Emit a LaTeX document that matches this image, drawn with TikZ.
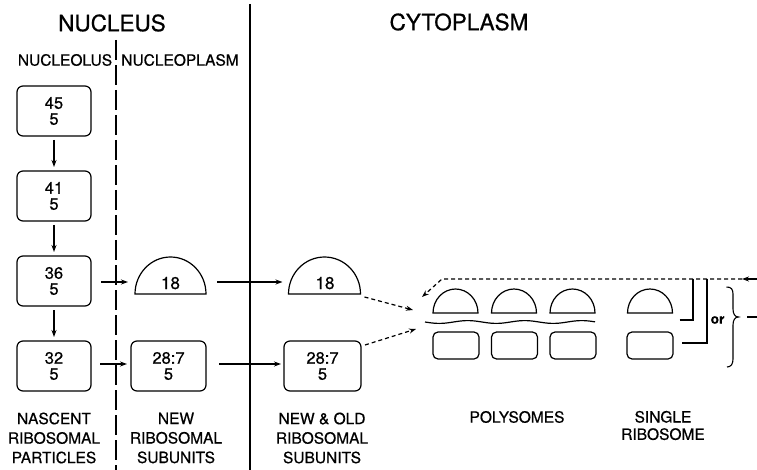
\documentclass[tikz,border=0pt]{standalone}
\usepackage{fontspec}
\setmainfont{TeX Gyre Heros}[FakeBold=0.6]
\usetikzlibrary{arrows.meta}
\begin{document}
\begin{tikzpicture}[x=1pt,y=-1pt,
  every node/.style={inner sep=0pt, outer sep=0pt},
  line width=1.2pt,
  title/.style={font=\fontsize{22.5}{27}\selectfont},
  lab/.style={font=\fontsize{15.5}{19.5}\selectfont, align=center},
  labs/.style={font=\fontsize{15.5}{17.3}\selectfont, align=center},
  numbox/.style={draw, rounded corners=6pt, minimum width=74pt, minimum height=50pt,
    align=center, font=\fontsize{16.5}{16}\selectfont},
  halfbig/.style={minimum width=71pt, inner ysep=0pt, text height=31.5pt, text depth=5pt,
    font=\fontsize{17}{16}\selectfont},
  halfsmall/.style={minimum width=45pt, minimum height=24pt},
  rbox/.style={draw, rounded corners=5pt, minimum width=46pt, minimum height=27pt},
  arr/.style={-{Stealth[length=7pt,width=5pt]}},
  darr/.style={dash pattern=on 4pt off 3pt, -{Stealth[length=7pt,width=5pt]}},
]
\useasboundingbox (0,0) rectangle (757,470);

% titles
\node[title] (nucleus) at (112,23) {NUCLEUS};
\node[title] (cyto) at (459,22) {CYTOPLASM};
\node[lab] (nucleolus) at (65,60) {NUCLEOLUS};
\node[lab] (nucleoplasm) at (180,60) {NUCLEOPLASM};

% dividers
\draw (250,4) -- (250,470);
\draw[dash pattern=on 20pt off 5pt] (116,40) -- (116,470);

% nucleolus boxes
\node[numbox] (b45) at (54,111) {45\\5};
\node[numbox] (b41) at (54,196) {41\\5};
\node[numbox] (b36) at (54,281) {36\\5};
\node[numbox] (b32) at (54,366) {32\\5};
\draw[arr, shorten <=4pt, shorten >=4pt] (b45) -- (b41);
\draw[arr, shorten <=4pt, shorten >=4pt] (b41) -- (b36);
\draw[arr, shorten <=4pt, shorten >=4pt] (b36) -- (b32);

% small subunits
\node[halfbig, anchor=south] (s18a) at (170.5,294) {18};
\draw (s18a.south east) arc[start angle=0, end angle=180, x radius=35.5pt, y radius=37pt] -- cycle;
\node[halfbig, anchor=south] (s18b) at (325,294) {18};
\draw (s18b.south east) arc[start angle=0, end angle=180, x radius=36pt, y radius=37pt] -- cycle;

% large subunits
\node[numbox, minimum width=75pt] (r28a) at (168.5,366) {28:7\\5};
\node[numbox, minimum width=77pt] (r28b) at (322.5,366) {28:7\\5};

% nucleus -> cytoplasm arrows
\coordinate (ya) at (0,282);
\coordinate (yb) at (0,364);
\draw[arr, shorten <=10pt, shorten >=7pt] (b36.east |- ya) -- (s18a.west |- ya);
\draw[arr, shorten <=11pt, shorten >=7pt] (s18a.east |- ya) -- (s18b.west |- ya);
\draw[arr, shorten <=9pt, shorten >=4pt] (b32.east |- yb) -- (r28a.west |- yb);
\draw[arr, shorten <=13pt, shorten >=3pt] (r28a.east |- yb) -- (r28b.west |- yb);

% polysomes
\foreach \n/\x in {p1/455.5, p2/514, p3/572.5, ps/650}{
  \node[halfsmall, anchor=south] (h\n) at (\x,313) {};
  \draw (h\n.south east) arc[start angle=0, end angle=180, x radius=22.5pt, y radius=24pt] -- cycle;
}
\node[rbox] (r1) at (456,345.5) {};
\node[rbox] (r2) at (514.5,345.5) {};
\node[rbox] (r3) at (573,345.5) {};
\node[rbox] (rs) at (650,345.5) {};
\draw plot[domain=0:170, samples=120, smooth] ({425+\x}, {322+1.4*sin(\x*6.3158)});

% dashed arrows into polysomes
\coordinate (in1) at (413,310);
\coordinate (in2) at (416,329);
\draw[darr] ([xshift=4pt,yshift=-3pt]s18b.south east) -- (in1);
\draw[darr] ([xshift=4pt,yshift=-4pt]r28b.north east) -- (in2);

% return path
\coordinate (redge) at (757,279);
\coordinate (rhead) at (742,279);
\coordinate (rcorner) at (442,279);
\coordinate (rtip) at (422,297);
\draw[arr] (redge) -- (rhead);
\draw[darr] (rhead) -- (rcorner) -- (rtip);

% single ribosome connectors
\coordinate (j1) at (693,279);
\coordinate (j2) at (707,279);
\draw ([xshift=7pt,yshift=-7pt]hps.south east) -| (j1);
\draw ([xshift=9pt,yshift=2.5pt]rs.east) -| (j2);
\node[font=\fontsize{13.5}{14}\bfseries] (or) at (717.5,320) {or};

% brace
\coordinate (btop) at (726.5,287);
\coordinate (btip) at (738.5,317);
\coordinate (bbot) at (727,367);
\draw[line width=1.1pt] (btop) .. controls (731,287) and (733,289) .. (733,294)
  -- (733,309) .. controls (733,314) and (735,317) .. (btip)
  .. controls (735,317) and (733,320) .. (733,325)
  -- (733,359) .. controls (733,364) and (731,367) .. (bbot);
\coordinate (bout) at (757,317);
\draw ([xshift=8.5pt]btip) -- (bout);

% bottom labels
\node[lab] (l1) at (54,438) {NASCENT\\RIBOSOMAL\\PARTICLES};
\node[lab] (l2) at (176,438) {NEW\\RIBOSOMAL\\SUBUNITS};
\node[lab] (l3) at (322,438) {NEW \& OLD\\RIBOSOMAL\\SUBUNITS};
\node[lab] (l4) at (517,417) {POLYSOMES};
\node[labs] (l5) at (663,425.5) {SINGLE\\RIBOSOME};
\end{tikzpicture}
\end{document}
